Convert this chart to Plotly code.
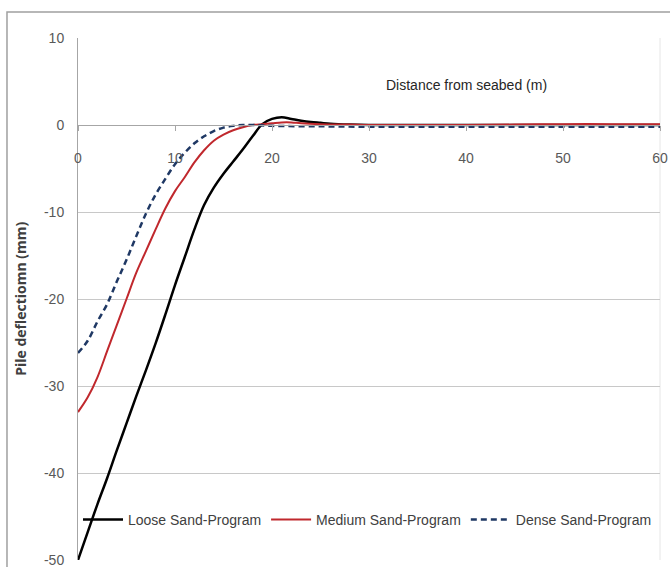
import plotly.graph_objects as go

# Distance from seabed (m)
x_loose = [0,1,2,3,4,5,6,7,8,9,10,11,12,13,14,15,16,17,18,19,20,21,22,23,24,25,26,28,30,35,40,45,50,55,60]
y_loose = [-50,-46.8,-43.6,-40.6,-37.4,-34.3,-31.2,-28.2,-25.1,-21.8,-18.4,-15.2,-12.0,-9.2,-7.2,-5.6,-4.2,-2.8,-1.3,0.1,0.7,0.9,0.7,0.5,0.35,0.25,0.15,0.05,0.0,0.0,0.0,0.0,0.0,0.0,0.0]

x_medium = [0,1,2,3,4,5,6,7,8,9,10,11,12,13,14,15,16,17,18,19,20,21,22,23,25,28,30,35,40,45,50,55,60]
y_medium = [-33,-31.3,-29,-26,-23,-20,-17,-14.5,-12,-9.6,-7.6,-6.0,-4.3,-2.9,-1.8,-1.1,-0.6,-0.25,0,0.1,0.2,0.3,0.3,0.2,0.1,0.05,0.0,0.0,0.0,0.05,0.1,0.1,0.1]

x_dense = [0,1,2,3,4,5,6,7,8,9,10,11,12,13,14,15,16,17,18,20,25,30,35,40,45,50,55,60]
y_dense = [-26.2,-24.8,-22.6,-20.6,-18,-15.5,-12.8,-10.2,-8,-6.2,-4.5,-3.2,-2.1,-1.3,-0.7,-0.3,-0.1,0,0,-0.1,-0.15,-0.2,-0.2,-0.2,-0.2,-0.2,-0.2,-0.2]

series_names = ["Loose Sand-Program", "Medium Sand-Program", "Dense Sand-Program"]
x_ticks = [0, 10, 20, 30, 40, 50, 60]
y_ticks = [10, 0, -10, -20, -30, -40, -50]

FONT = "Liberation Sans Narrow, Arial Narrow, Liberation Sans, sans-serif"

fig = go.Figure()
fig.add_trace(go.Scatter(x=x_loose, y=y_loose, mode="lines", name=series_names[0],
                         line=dict(color="#000000", width=2.5, shape="spline")))
fig.add_trace(go.Scatter(x=x_medium, y=y_medium, mode="lines", name=series_names[1],
                         line=dict(color="#C0282D", width=2, shape="spline")))
fig.add_trace(go.Scatter(x=x_dense, y=y_dense, mode="lines", name=series_names[2],
                         line=dict(color="#1F3864", width=2.5, dash="6px,4px", shape="spline")))

fig.update_layout(
    width=670, height=567,
    margin=dict(l=78, r=10, t=38, b=7, autoexpand=False),
    paper_bgcolor="white", plot_bgcolor="white",
    font=dict(family=FONT, size=14, color="#595959"),
    showlegend=True,
    legend=dict(orientation="h", x=0.0, y=0.077, xanchor="left", yanchor="middle",
                font=dict(family=FONT, size=14, color="#404040"),
                bgcolor="rgba(0,0,0,0)", itemwidth=40, tracegroupgap=0),
    xaxis=dict(range=[0, 60], tickvals=x_ticks, ticktext=[str(v) for v in x_ticks],
               showgrid=False, zeroline=False, showline=True, linecolor="#A6A6A6", linewidth=1,
               anchor="free", position=50/60, ticks="outside", ticklen=5, tickcolor="#A6A6A6",
               automargin=False, ticklabelstandoff=15, ticklabeloverflow="allow",
               tickfont=dict(family=FONT, size=14, color="#595959")),
    yaxis=dict(range=[-50, 10], tickvals=y_ticks, ticktext=[str(v) for v in y_ticks],
               showgrid=True, gridcolor="#C8C8C8", gridwidth=1, zeroline=False,
               showline=True, linecolor="#A6A6A6", linewidth=1, automargin=False,
               ticklabelstandoff=10, ticklabeloverflow="allow",
               tickfont=dict(family=FONT, size=14, color="#595959")),
    annotations=[
        dict(x=40, y=4.6, xref="x", yref="y", text="Distance from seabed (m)",
             showarrow=False, font=dict(family=FONT, size=14, color="#262626")),
        dict(x=-0.1, y=0.5, xref="paper", yref="paper", text="<b>Pile deflectiomn (mm)</b>",
             textangle=-90, showarrow=False, xanchor="center", yanchor="middle",
             font=dict(family="Open Sans, DejaVu Sans, sans-serif", size=14, color="#404040")),
    ],
    shapes=[
        dict(type="rect", xref="paper", yref="paper", x0=-0.122, x1=1.05, y0=-0.06, y1=1.0498,
             line=dict(color="#A0A0A0", width=1.5), fillcolor="rgba(0,0,0,0)", layer="below"),
        dict(type="line", xref="paper", yref="paper", x0=1, x1=1, y0=0, y1=1,
             line=dict(color="#E6E6E6", width=1), layer="below"),
    ],
)

fig.write_html(
    "out.html",
    config={"displayModeBar": False},
    post_script="document.body.style.margin='0';document.documentElement.style.overflow='hidden';",
)
